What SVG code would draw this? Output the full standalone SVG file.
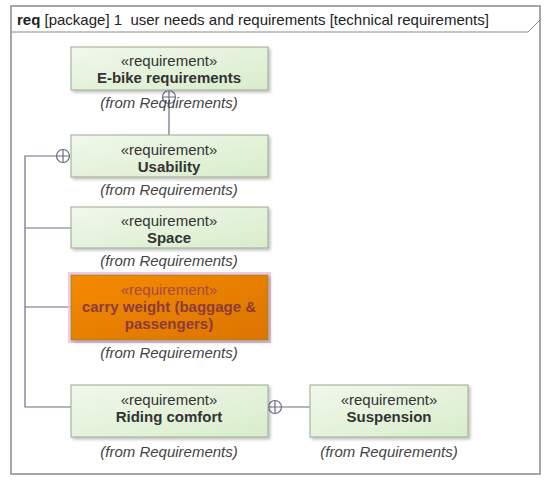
<svg xmlns="http://www.w3.org/2000/svg" width="550" height="482" viewBox="0 0 550 482">
<style>
text{font-family:"Liberation Sans",Arial,sans-serif;fill:#333;text-anchor:middle}
.st{font-size:15px}
.nm{font-size:15px;font-weight:bold}
.fr{font-size:15px;font-style:italic;fill:#444}
.box{fill:url(#g);stroke:#9aa890;stroke-width:1}
.c{fill:none;stroke:#6c6c86;stroke-width:1.2}
.org text{fill:#8b3b3b}
</style>
<defs>
<linearGradient id="g" x1="0" y1="0" x2="1" y2="1">
<stop offset="0" stop-color="#f1f8ec"/>
<stop offset="1" stop-color="#d8edcb"/>
</linearGradient>
<linearGradient id="o" x1="0" y1="0" x2="1" y2="1">
<stop offset="0" stop-color="#f58a05"/>
<stop offset="1" stop-color="#dc7400"/>
</linearGradient>
<filter id="sh" x="-10%" y="-10%" width="130%" height="140%">
<feDropShadow dx="2" dy="2" stdDeviation="1.5" flood-color="#000" flood-opacity="0.25"/>
</filter>
<g id="cp"><circle r="6.5" fill="#fff" stroke="#6c6c86" stroke-width="1.2"/><path d="M-6.5 0H6.5M0 -6.5V6.5" stroke="#6c6c86" stroke-width="1.2"/></g>
</defs>
<rect width="550" height="482" fill="#fff"/>
<g id="frame">
<rect x="11" y="6" width="529" height="468" fill="none" stroke="#8a8a8a" stroke-width="1.5"/>
<path d="M11 32H528L540 20" fill="none" stroke="#8a8a8a" stroke-width="1"/>
<text x="17" y="25" style="font-size:15px;text-anchor:start;fill:#222"><tspan font-weight="bold">req</tspan> [package] 1&#160; user needs and requirements [technical requirements]</text>
</g>
<g id="connectors">
<path class="c" d="M169 90V135"/>
<path class="c" d="M57 156H25V407H71M25 228H71M25 307H71"/>
<path class="c" d="M268 407H310"/>
<use href="#cp" x="169" y="97"/>
<use href="#cp" x="63" y="156"/>
<use href="#cp" x="275" y="407"/>
</g>
<g id="ebike">
<rect class="box" x="71" y="47" width="197" height="43" filter="url(#sh)"/>
<text class="st" x="169" y="66">«requirement»</text>
<text class="nm" x="169" y="83">E-bike requirements</text>
<text class="fr" x="169" y="108">(from Requirements)</text>
</g>
<g id="usability">
<rect class="box" x="71" y="135" width="197" height="42" filter="url(#sh)"/>
<text class="st" x="169" y="155">«requirement»</text>
<text class="nm" x="169" y="172">Usability</text>
<text class="fr" x="169" y="195">(from Requirements)</text>
</g>
<g id="space">
<rect class="box" x="71" y="207" width="197" height="41" filter="url(#sh)"/>
<text class="st" x="169" y="226">«requirement»</text>
<text class="nm" x="169" y="243">Space</text>
<text class="fr" x="169" y="266">(from Requirements)</text>
</g>
<g id="carry" class="org">
<rect x="69" y="273" width="201" height="69" fill="none" stroke="#f6c6ee" stroke-width="2"/>
<rect x="71" y="275" width="197" height="65" fill="url(#o)" stroke="#8c8a30" stroke-width="1" filter="url(#sh)"/>
<text class="st" x="169" y="295" style="fill:#a84a45">«requirement»</text>
<text class="nm" x="169" y="312">carry weight (baggage &amp;</text>
<text class="nm" x="169" y="329">passengers)</text>
<text class="fr" x="169" y="358" style="fill:#444">(from Requirements)</text>
</g>
<g id="riding">
<rect class="box" x="71" y="385" width="197" height="52" filter="url(#sh)"/>
<text class="st" x="169" y="405">«requirement»</text>
<text class="nm" x="169" y="422">Riding comfort</text>
<text class="fr" x="169" y="457">(from Requirements)</text>
</g>
<g id="suspension">
<rect class="box" x="310" y="385" width="158" height="52" filter="url(#sh)"/>
<text class="st" x="389" y="405">«requirement»</text>
<text class="nm" x="389" y="422">Suspension</text>
<text class="fr" x="389" y="457">(from Requirements)</text>
</g>
</svg>
